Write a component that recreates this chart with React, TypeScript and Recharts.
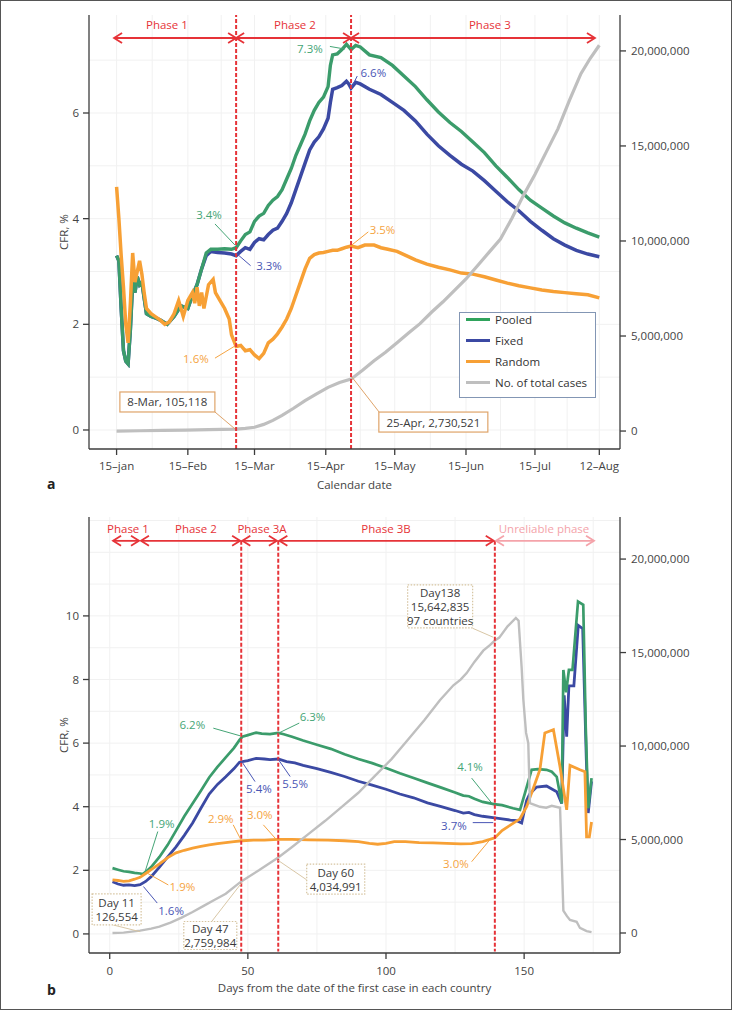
import React from 'react';
import { LineChart, Line, XAxis, YAxis, CartesianGrid, ReferenceLine, ReferenceDot, Legend } from 'recharts';

// ---------- panel a: calendar date, day 0 = 15 Jan ----------
const aDays = [0, 1, 2, 3, 4, 5, 6, 7, 8, 9, 10, 11, 12, 13, 15, 17, 19, 22, 25, 28, 31, 33, 35, 37, 39, 41, 44, 47, 50, 52,
  54, 56, 58, 60, 62, 64, 66, 68, 70, 72, 74, 76, 78, 80, 82, 84, 86, 88, 90, 92, 93, 94, 96, 98, 100, 101, 102, 104, 106, 110,
  115, 120, 125, 130, 135, 140, 145, 150, 155, 160, 165, 170, 175, 180, 185, 190, 195, 200, 205, 210];
const aPooled = [3.3, 3.2, 2.3, 1.5, 1.3, 1.25, 1.9, 2.8, 2.6, 2.9, 2.75, 2.8, 2.5, 2.2, 2.15, 2.12, 2.08, 2.0, 2.15, 2.35, 2.3, 2.55, 2.75, 3.05, 3.35, 3.42, 3.42, 3.43, 3.42, 3.45,
  3.58, 3.7, 3.75, 3.95, 4.05, 4.1, 4.25, 4.35, 4.42, 4.55, 4.75, 4.95, 5.2, 5.4, 5.6, 5.85, 6.05, 6.2, 6.3, 6.5, 6.9, 7.1, 7.12, 7.2, 7.3, 7.25, 7.2, 7.28, 7.25, 7.1,
  7.05, 6.9, 6.7, 6.5, 6.25, 6.02, 5.82, 5.65, 5.45, 5.25, 5.0, 4.78, 4.55, 4.35, 4.2, 4.05, 3.92, 3.82, 3.73, 3.65];
const aFixed = [3.3, 3.2, 2.3, 1.5, 1.3, 1.25, 1.9, 2.8, 2.6, 2.9, 2.75, 2.8, 2.5, 2.2, 2.15, 2.12, 2.08, 2.0, 2.15, 2.35, 2.3, 2.55, 2.75, 3.05, 3.3, 3.38, 3.36, 3.35, 3.33, 3.3,
  3.38, 3.45, 3.42, 3.55, 3.62, 3.6, 3.7, 3.78, 3.82, 3.95, 4.1, 4.3, 4.55, 4.8, 5.05, 5.3, 5.45, 5.55, 5.7, 5.9, 6.2, 6.45, 6.48, 6.52, 6.6, 6.55, 6.47, 6.58, 6.55, 6.45,
  6.35, 6.2, 6.05, 5.85, 5.6, 5.38, 5.2, 5.03, 4.9, 4.72, 4.52, 4.32, 4.15, 3.95, 3.78, 3.62, 3.5, 3.4, 3.33, 3.28];
const aRandomDays = [0, 1, 2, 3, 4, 5, 6, 7, 8, 9, 10, 11, 12, 13, 15, 17, 19, 21, 23, 25, 27, 29, 31, 33, 34, 35, 36, 37, 38, 40, 42, 43, 45, 47,
  49, 50, 52, 54, 56, 58, 60, 62, 64, 66, 68, 70, 72, 74, 76, 78, 80, 82, 84, 86, 88, 90, 92, 94, 96, 98, 100, 102,
  105, 108, 112, 115, 118, 122, 126, 130, 135, 140, 145, 150, 155, 160, 165, 170, 175, 180, 185, 190, 195, 200, 205, 210];
const aRandom = [4.6, 4.0, 3.3, 2.7, 2.0, 1.65, 2.4, 3.35, 2.8, 3.0, 3.2, 2.95, 2.6, 2.3, 2.2, 2.14, 2.08, 2.0, 2.05, 2.2, 2.45, 2.15, 2.45, 2.6, 2.4, 2.7, 2.35, 2.6, 2.3, 2.75, 2.85, 2.6, 2.45, 2.3,
  2.1, 1.8, 1.58, 1.6, 1.5, 1.52, 1.42, 1.35, 1.45, 1.65, 1.72, 1.82, 1.95, 2.1, 2.3, 2.55, 2.8, 3.05, 3.25, 3.32, 3.35, 3.36, 3.38, 3.4, 3.4, 3.43, 3.46, 3.48,
  3.45, 3.5, 3.5, 3.45, 3.42, 3.38, 3.3, 3.22, 3.14, 3.08, 3.03, 2.97, 2.95, 2.9, 2.84, 2.78, 2.73, 2.69, 2.65, 2.62, 2.6, 2.58, 2.56, 2.5];
const aCasesDays = [0, 10, 20, 30, 40, 52, 56, 60, 64, 68, 72, 77, 82, 87, 92, 97, 102, 107, 112, 117, 122, 127, 132, 137, 142, 147,
  152, 157, 162, 167, 172, 177, 182, 187, 192, 197, 202, 206, 210];
const aCases = [0, 15000, 30000, 50000, 75000, 105118, 140000, 200000, 350000, 560000, 820000, 1200000, 1600000, 1950000, 2300000, 2550000,
  2730521, 3200000, 3700000, 4150000, 4650000, 5160000, 5650000, 6250000, 6800000, 7400000,
  8000000, 8700000, 9400000, 10100000, 11200000, 12400000, 13500000, 14700000, 15900000, 17400000, 18800000, 19600000, 20300000];
const aTicks = [0, 31, 60, 91, 121, 152, 182, 210];
const aTickLabels = ['15–jan', '15–Feb', '15–Mar', '15–Apr', '15–May', '15–Jun', '15–Jul', '12–Aug'];

// ---------- panel b: days from first case ----------
const bPooledDays = [1, 3, 5, 7, 9, 11, 12, 13, 15, 18, 21, 24, 27, 30, 33, 36, 39, 42, 45, 47, 48, 50, 53, 55, 58, 61, 63, 66, 70, 75,
  80, 85, 90, 95, 100, 105, 110, 115, 120, 125, 128, 130, 132, 135, 139, 142, 146, 148.5, 150.3, 152.7,
  155, 158.1, 160, 161.8, 163.6, 164.2, 165.2, 166.2, 167.5, 169.5, 171.4, 172.3, 173.2, 174.4];
const bPooled = [2.07, 2.02, 1.97, 1.95, 1.92, 1.9, 1.88, 1.95, 2.1, 2.42, 2.8, 3.25, 3.7, 4.1, 4.5, 4.92, 5.25, 5.55, 5.85, 6.1, 6.2, 6.25, 6.33, 6.3, 6.28, 6.32, 6.28, 6.2, 6.08, 5.95,
  5.82, 5.65, 5.5, 5.37, 5.22, 5.05, 4.9, 4.75, 4.6, 4.45, 4.35, 4.33, 4.25, 4.15, 4.08, 4.05, 3.95, 3.9, 4.43, 5.16,
  5.18, 5.16, 5.1, 4.94, 4.1, 8.3, 7.6, 8.3, 8.3, 10.45, 10.35, 6.5, 3.95, 4.9];
const bFixedDays = [1, 3, 5, 7, 9, 11, 13, 15, 18, 21, 24, 27, 30, 33, 36, 39, 42, 45, 47, 48, 50, 53, 56, 58, 61, 64, 67, 70, 75, 80,
  85, 90, 95, 100, 105, 110, 115, 120, 125, 128, 130, 132, 135, 139.4, 142, 145, 147.3, 149.1, 150.9, 152,
  154.5, 158.1, 161.8, 163.6, 164.5, 165.4, 166.2, 168, 169.6, 171.2, 172.5, 173.2, 174.4];
const bFixed = [1.64, 1.57, 1.53, 1.54, 1.52, 1.55, 1.65, 1.8, 2.1, 2.42, 2.74, 3.1, 3.49, 3.95, 4.4, 4.7, 4.94, 5.2, 5.4, 5.42, 5.45, 5.52, 5.5, 5.48, 5.5, 5.42, 5.38, 5.3, 5.2, 5.08,
  4.95, 4.8, 4.68, 4.55, 4.4, 4.28, 4.12, 4.0, 3.88, 3.8, 3.82, 3.75, 3.7, 3.65, 3.62, 3.58, 3.56, 3.49, 4.2, 4.4,
  4.62, 4.65, 4.47, 4.1, 7.5, 6.2, 7.8, 7.8, 9.7, 9.6, 5.5, 3.8, 4.8];
const bRandomDays = [1, 3, 5, 7, 9, 11, 13, 15, 18, 21, 24, 27, 30, 33, 36, 39, 42, 45, 48, 52, 56, 61, 66, 72, 79, 85, 90, 94, 97, 100,
  103, 107, 112, 117, 122, 127, 131, 135, 139.4, 142, 145, 148.5, 150.9, 153, 155.7, 157.5, 160.6, 163, 165.4, 166.6,
  170.2, 172, 172.6, 173.6, 174.4];
const bRandom = [1.7, 1.68, 1.65, 1.67, 1.72, 1.78, 1.9, 2.02, 2.2, 2.4, 2.55, 2.63, 2.7, 2.75, 2.8, 2.84, 2.87, 2.9, 2.93, 2.95, 2.95, 2.97, 2.97, 2.96, 2.95, 2.93, 2.9, 2.85, 2.82, 2.85,
  2.9, 2.9, 2.87, 2.86, 2.85, 2.83, 2.84, 2.9, 3.02, 3.25, 3.42, 3.62, 4.0, 4.5, 5.16, 6.32, 6.42, 5.25, 3.9, 5.3,
  5.16, 5.1, 3.05, 3.05, 3.52];
const bCasesDays = [1, 5, 11, 15, 18, 22, 26, 30, 34, 38, 42, 47.6, 54, 61, 66, 72, 78, 84, 90, 96,
  102, 108, 114, 119.5, 124.4, 127, 129.2, 132, 135.2, 137.6, 139.4, 141, 144, 147, 148, 149.1, 149.7, 150.7, 151.5, 152.1,
  155.7, 158, 160, 163, 164.2, 165.5, 166.6, 169, 170.2, 172.6, 174.4];
const bCases = [0, 20000, 126554, 230000, 340000, 560000, 820000, 1120000, 1450000, 1780000, 2100000, 2759984, 3350000, 4034991, 4600000, 5300000, 6000000, 6750000, 7500000, 8400000,
  9300000, 10350000, 11400000, 12450000, 13250000, 13550000, 13900000, 14500000, 15100000, 15400000, 15642835, 15800000, 16400000, 16850000, 16700000, 14200000, 12500000, 10700000, 10150000, 6950000,
  6750000, 6700000, 6800000, 6700000, 1200000, 900000, 700000, 600000, 270000, 100000, 50000];
const bTicks = [0, 50, 100, 150];

const GREEN = '#3b9c6b';
const BLUE = '#3b49a3';
const ORANGE = '#f7a035';
const GREY = '#bfbfbf';
const RED = '#e63338';
const PINK = '#f4a3aa';
const GREEN_T = '#45a576';
const BLUE_T = '#4956b5';
const ORANGE_T = '#f5a442';
const AXIS = '#3c3c3c';
const FONT = 11.5;

const pts = (xs: number[], ys: number[]) => xs.map((x, i) => ({ x, y: ys[i] }));

const legendItems = [
  { name: 'Pooled', color: '#2fa35c' },
  { name: 'Fixed', color: BLUE },
  { name: 'Random', color: ORANGE },
  { name: 'No. of total cases', color: GREY },
];

// ---------- annotations (data coordinates) ----------
const aPhases = [
  { text: 'Phase 1', x: 21.9, from: -1.1, to: 52, color: RED },
  { text: 'Phase 2', x: 77.6, from: 52, to: 102, color: RED },
  { text: 'Phase 3', x: 162.4, from: 102, to: 208.1, color: RED },
];
const aCuts = [52, 102];
const aNotes = [
  { text: '7.3%', x: 84.1, y: 7.23, color: GREEN_T, seg: [92.8, 7.26, 99.3, 7.21] },
  { text: '6.6%', x: 111.7, y: 6.76, color: BLUE_T, seg: [102.3, 6.49, 104.7, 6.7] },
  { text: '3.4%', x: 40.2, y: 4.07, color: GREEN_T, seg: [42.8, 3.9, 51.5, 3.5] },
  { text: '3.3%', x: 66.3, y: 3.12, color: BLUE_T, seg: [52.2, 3.34, 58.3, 3.11] },
  { text: '1.6%', x: 34.5, y: 1.36, color: ORANGE_T, seg: [42.8, 1.36, 51.5, 1.59] },
  { text: '3.5%', x: 115.7, y: 3.8, color: ORANGE_T, seg: [102.3, 3.5, 109.5, 3.75] },
];
const aBoxes = [
  { lines: ['8-Mar, 105,118'], x: 22.1, y: 0.53, w: 95, h: 20, seg: [42.8, 0.34, 51.5, 0.02] },
  { lines: ['25-Apr, 2,730,521'], x: 137.8, y: 0.15, w: 109, h: 20, seg: [102.4, 1.0, 114.2, 0.34] },
];

const bPhases = [
  { text: 'Phase 1', x: 6.6, from: 1.2, to: 10.6, color: RED },
  { text: 'Phase 2', x: 31.2, from: 11.3, to: 47.2, color: RED },
  { text: 'Phase 3A', x: 55.1, from: 48.0, to: 60.5, color: RED },
  { text: 'Phase 3B', x: 100, from: 61.4, to: 139.0, color: RED },
  { text: 'Unreliable phase', x: 157.2, from: 139.8, to: 175.3, color: PINK },
];
const bCuts = [47.6, 61, 139.4];
const bNotes = [
  { text: '6.2%', x: 29.9, y: 6.57, color: GREEN_T, seg: [37.5, 6.47, 47.2, 6.23] },
  { text: '6.3%', x: 73.4, y: 6.83, color: GREEN_T, seg: [61, 6.31, 68.6, 6.63] },
  { text: '5.4%', x: 54.0, y: 4.58, color: BLUE_T, seg: [47.8, 5.42, 52.6, 4.79] },
  { text: '5.5%', x: 67.1, y: 4.74, color: BLUE_T, seg: [61, 5.49, 65.3, 4.95] },
  { text: '1.9%', x: 18.8, y: 3.48, color: GREEN_T, seg: [17.4, 3.22, 12.8, 1.96] },
  { text: '2.9%', x: 40.2, y: 3.64, color: ORANGE_T, seg: [44.7, 3.43, 47.5, 2.96] },
  { text: '3.0%', x: 54.3, y: 3.76, color: ORANGE_T, seg: [55.6, 3.43, 60.4, 2.96] },
  { text: '1.9%', x: 26.3, y: 1.49, color: ORANGE_T, seg: [21.2, 1.54, 13.6, 1.91] },
  { text: '1.6%', x: 22.2, y: 0.75, color: BLUE_T, seg: [17.2, 0.97, 12.2, 1.49] },
  { text: '4.1%', x: 130.4, y: 5.26, color: GREEN_T, seg: [131.0, 4.9, 138.3, 4.11] },
  { text: '3.7%', x: 124.6, y: 3.4, color: BLUE_T, seg: [131.4, 3.5, 138.8, 3.5] },
  { text: '3.0%', x: 125.3, y: 2.22, color: ORANGE_T, seg: [131.0, 2.27, 137.6, 2.96] },
];
const bBoxes = [
  { lines: ['Day 11', '126,554'], x: 2.5, y: 0.77, w: 49, h: 31, seg: [1.3, 0.28, 11.0, 0.07] },
  { lines: ['Day 47', '2,759,984'], x: 36.4, y: -0.05, w: 53, h: 28, seg: [36.9, 0.39, 47.8, 1.61] },
  { lines: ['Day 60', '4,034,991'], x: 81.8, y: 1.72, w: 58, h: 30, seg: [71.3, 1.7, 61.0, 2.31] },
  { lines: ['Day138', '15,642,835', '97 countries'], x: 119.6, y: 10.3, w: 65, h: 43, seg: [131.4, 9.61, 138.8, 9.33] },
];

// ---------- shapes ----------
const textShape = (t: string, color: string) => (p: any) => (
  <text x={p.cx} y={p.cy} fill={color} fontSize={FONT} textAnchor="middle" dominantBaseline="central">{t}</text>
);

const boxShape = (lines: string[], w: number, h: number, stroke: string, dash?: string) => (p: any) => (
  <g>
    <rect x={p.cx - w / 2} y={p.cy - h / 2} width={w} height={h} fill="#fff" stroke={stroke} strokeWidth={1.2} strokeDasharray={dash} />
    {lines.map((l, i) => (
      <text key={i} x={p.cx} y={p.cy + (i - (lines.length - 1) / 2) * 14} fill="#3a3a3a" fontSize={FONT}
        textAnchor="middle" dominantBaseline="central">{l}</text>
    ))}
  </g>
);

const arrowShape = (color: string) => (p: any) => {
  const { x1, y1, x2, y2 } = p;
  return (
    <g stroke={color} strokeWidth={1.8} fill="none">
      <line x1={x1} y1={y1} x2={x2} y2={y2} />
      <polyline points={`${x1 + 8},${y1 - 5} ${x1},${y1} ${x1 + 8},${y1 + 5}`} />
      <polyline points={`${x2 - 8},${y2 - 5} ${x2},${y2} ${x2 - 8},${y2 + 5}`} />
    </g>
  );
};

const YLabel = (p: any) => {
  const vb = p.viewBox || {};
  const x = vb.x + vb.width - 26;
  const y = vb.y + vb.height / 2;
  return (
    <text x={x} y={y} transform={`rotate(-90 ${x} ${y})`} textAnchor="middle" dominantBaseline="central" fill="#444" fontSize={FONT}>
      CFR, %
    </text>
  );
};

const XLabel = (text: string, dy: number) => (p: any) => {
  const vb = p.viewBox || {};
  return (
    <text x={vb.x + vb.width / 2} y={vb.y + dy} textAnchor="middle" dominantBaseline="central" fill="#444" fontSize={FONT}>
      {text}
    </text>
  );
};

const LegendBox = () => (
  <div style={{ width: 137, height: 86, border: '1.3px solid #8396b4', boxSizing: 'border-box', background: '#fff', fontSize: FONT, color: '#333' }}>
    <div style={{ position: 'relative', top: -4 }}>
      {legendItems.map((it) => (
        <div key={it.name} style={{ display: 'flex', alignItems: 'center', height: 21 }}>
          <span style={{ display: 'inline-block', width: 24, height: 3, background: it.color, marginLeft: 6, marginRight: 5 }} />
          <span>{it.name}</span>
        </div>
      ))}
    </div>
  </div>
);

const axisProps = {
  axisLine: { stroke: AXIS, strokeWidth: 1.3 },
  tickLine: { stroke: AXIS, strokeWidth: 1.3 },
  tick: { fill: '#444', fontSize: FONT },
  tickSize: 6,
};

const fmtBig = (v: number) => v.toLocaleString('en-US');

function renderNotes(notes: typeof aNotes, prefix: string) {
  return notes.flatMap((n, i) => [
    <ReferenceLine key={`${prefix}s${i}`} segment={[{ x: n.seg[0], y: n.seg[1] }, { x: n.seg[2], y: n.seg[3] }]}
      stroke={n.color} strokeWidth={1} />,
    <ReferenceDot key={`${prefix}t${i}`} x={n.x} y={n.y} r={0} shape={textShape(n.text, n.color)} />,
  ]);
}

function renderBoxes(boxes: typeof bBoxes, prefix: string, stroke: string, dash?: string, lead?: string) {
  return boxes.flatMap((b, i) => [
    <ReferenceLine key={`${prefix}s${i}`} segment={[{ x: b.seg[0], y: b.seg[1] }, { x: b.seg[2], y: b.seg[3] }]}
      stroke={lead || stroke} strokeWidth={1} />,
    <ReferenceDot key={`${prefix}b${i}`} x={b.x} y={b.y} r={0} shape={boxShape(b.lines, b.w, b.h, stroke, dash)} />,
  ]);
}

function renderPhases(phases: typeof aPhases, yLabel: number, yArrow: number, prefix: string) {
  return phases.flatMap((p, i) => [
    <ReferenceLine key={`${prefix}a${i}`} segment={[{ x: p.from, y: yArrow }, { x: p.to, y: yArrow }]} shape={arrowShape(p.color)} />,
    <ReferenceDot key={`${prefix}l${i}`} x={p.x} y={yLabel} r={0} shape={textShape(p.text, p.color)} />,
  ]);
}

const PanelA = () => (
  <LineChart width={735} height={500} margin={{ top: 15, right: 0, bottom: 0, left: 0 }}>
    <CartesianGrid stroke="#f1f1f1" horizontalValues={[0, 1, 2, 3, 4, 5, 6, 7]}
      verticalValues={[0, 15.5, 31, 45.5, 60, 75.5, 91, 106, 121, 136.5, 152, 167, 182, 196, 210]} />
    <XAxis type="number" dataKey="x" domain={[-12, 219]} allowDataOverflow ticks={aTicks} interval={0} height={51}
      tickMargin={7} tickFormatter={(v: number) => aTickLabels[aTicks.indexOf(v)]} {...axisProps}
      label={{ content: XLabel('Calendar date', 35) }} />
    <YAxis type="number" domain={[-0.36, 7.855]} allowDataOverflow ticks={[0, 2, 4, 6]} width={89} tickMargin={4}
      {...axisProps} label={{ content: YLabel }} />
    <YAxis yAxisId="right" orientation="right" type="number" domain={[-945000, 21890000]} allowDataOverflow
      ticks={[0, 5000000, 10000000, 15000000, 20000000]} width={115} tickMargin={5} tickFormatter={fmtBig} {...axisProps} />
    <Line data={pts(aDays, aFixed)} dataKey="y" name="Fixed" stroke={BLUE} strokeWidth={3.5} dot={false} isAnimationActive={false} />
    <Line data={pts(aDays, aPooled)} dataKey="y" name="Pooled" stroke={GREEN} strokeWidth={3.4} dot={false} isAnimationActive={false} />
    <Line data={pts(aRandomDays, aRandom)} dataKey="y" name="Random" stroke={ORANGE} strokeWidth={3.5} dot={false} isAnimationActive={false} />
    <Line data={pts(aCasesDays, aCases)} dataKey="y" yAxisId="right" name="No. of total cases" stroke={GREY} strokeWidth={3.2}
      dot={false} isAnimationActive={false} />
    {aCuts.map((c) => (
      <ReferenceLine key={`ac${c}`} x={c} stroke={RED} strokeWidth={2} strokeDasharray="4 2" />
    ))}
    {renderPhases(aPhases, 7.67, 7.42, 'ap')}
    {renderNotes(aNotes, 'an')}
    {renderBoxes(aBoxes, 'ab', '#dfa46a')}
    <Legend layout="vertical" align="center" verticalAlign="middle" content={LegendBox}
      wrapperStyle={{ left: 459, top: 312, width: 137, height: 86 }} />
  </LineChart>
);

const PanelB = () => (
  <LineChart width={735} height={511} margin={{ top: 17, right: 0, bottom: 0, left: 0 }}>
    <CartesianGrid stroke="#f1f1f1" horizontalValues={[0, 1, 2, 3, 4, 5, 6, 7, 8, 9, 10, 11, 12, 13]}
      verticalValues={[0, 25, 50, 75, 100, 125, 150, 175]} />
    <XAxis type="number" dataKey="x" domain={[-7.5, 184.7]} allowDataOverflow ticks={bTicks} interval={0} height={58}
      tickMargin={8} {...axisProps} label={{ content: XLabel('Days from the date of the first case in each country', 34) }} />
    <YAxis type="number" domain={[-0.6, 13.11]} allowDataOverflow ticks={[0, 2, 4, 6, 8, 10]} width={89} tickMargin={4}
      {...axisProps} label={{ content: YLabel }} />
    <YAxis yAxisId="right" orientation="right" type="number" domain={[-1070000, 22250000]} allowDataOverflow
      ticks={[0, 5000000, 10000000, 15000000, 20000000]} width={115} tickMargin={5} tickFormatter={fmtBig} {...axisProps} />
    <Line data={pts(bFixedDays, bFixed)} dataKey="y" name="Fixed" stroke={BLUE} strokeWidth={2.8} dot={false} isAnimationActive={false} />
    <Line data={pts(bPooledDays, bPooled)} dataKey="y" name="Pooled" stroke={GREEN} strokeWidth={2.7} dot={false} isAnimationActive={false} />
    <Line data={pts(bRandomDays, bRandom)} dataKey="y" name="Random" stroke={ORANGE} strokeWidth={2.8} dot={false} isAnimationActive={false} />
    <Line data={pts(bCasesDays, bCases)} dataKey="y" yAxisId="right" name="No. of total cases" stroke={GREY} strokeWidth={2.4}
      dot={false} isAnimationActive={false} />
    {bCuts.map((c) => (
      <ReferenceLine key={`bc${c}`} segment={[{ x: c, y: 12.36 }, { x: c, y: -0.55 }]} stroke={RED} strokeWidth={2} strokeDasharray="4 2" />
    ))}
    {renderPhases(bPhases, 12.74, 12.36, 'bp')}
    {renderNotes(bNotes, 'bn')}
    {renderBoxes(bBoxes, 'bb', '#d6c4a0', '1.5 1.5', '#d9c7a6')}
  </LineChart>
);

export default function App() {
  return (
    <div style={{ position: 'absolute', left: 0, top: 0, width: 735, height: 1011, background: '#fff', fontFamily: "'Open Sans', 'Noto Sans', sans-serif" }}>
      <PanelA />
      <PanelB />
      <div style={{ position: 'absolute', left: 47, top: 474, fontWeight: 'bold', fontSize: 14, color: '#222' }}>a</div>
      <div style={{ position: 'absolute', left: 47, top: 980, fontWeight: 'bold', fontSize: 14, color: '#222' }}>b</div>
      <div style={{ position: 'absolute', left: 0, top: 0, width: 732, height: 1010, border: '1.5px solid #555', boxSizing: 'border-box', pointerEvents: 'none' }} />
    </div>
  );
}
